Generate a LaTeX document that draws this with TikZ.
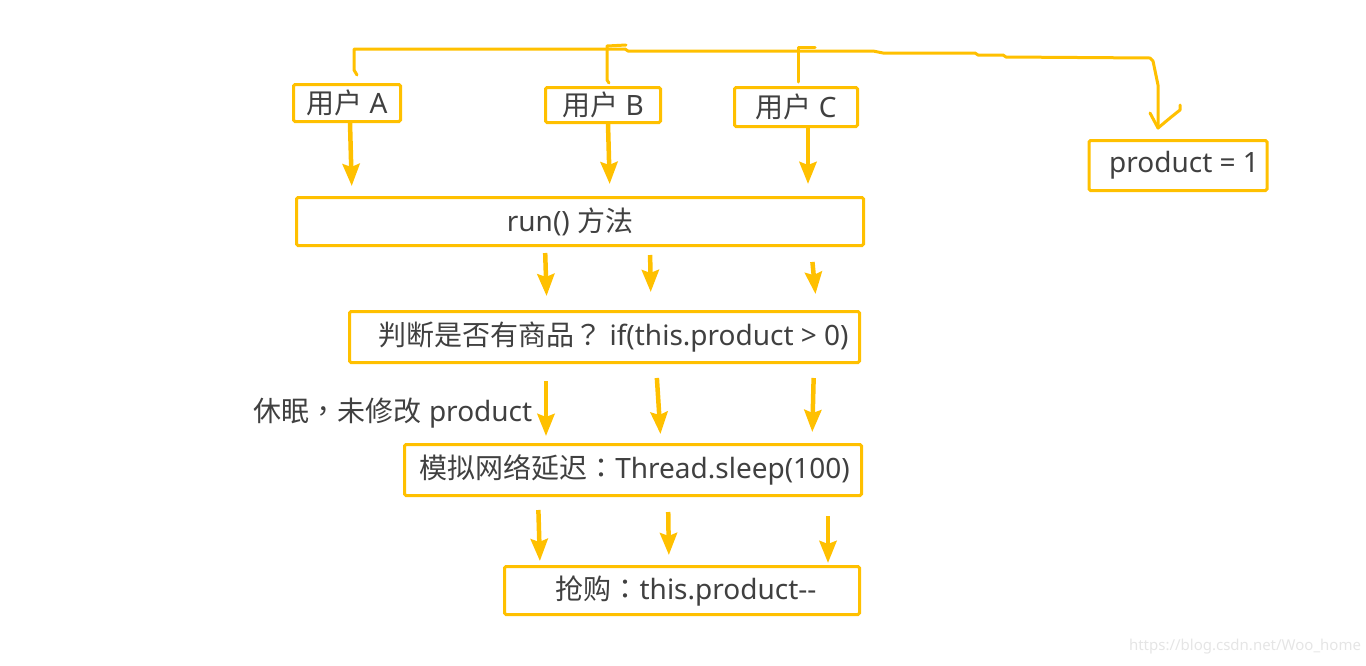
\documentclass[tikz,border=0pt]{standalone}
\usepackage{fontspec}
\setmainfont{Noto Sans}
\newfontfamily\cjk{Noto Sans CJK SC}
\newfontfamily\cjkp{Noto Sans CJK TC}
\usetikzlibrary{arrows.meta}
\definecolor{mygold}{RGB}{255,192,0}
\definecolor{mytext}{RGB}{64,64,64}

\begin{document}
\begin{tikzpicture}[x=1pt,y=-1pt,font=\fontsize{28}{32}\selectfont,
  box/.style={draw=mygold, line width=3pt, rounded corners=1.5pt, text=mytext, inner sep=0pt},
  flow/.style={draw=mygold, line width=4.5pt, -{Stealth[length=22pt,width=17pt,inset=3pt]}},
  hand/.style={draw=mygold, line width=3pt, line join=round, line cap=round}]
  \useasboundingbox (0,0) rectangle (1366,665);

  % users and the shared stock
  \node[box, minimum width=107pt, minimum height=37pt] (ua) at (347,103) {{\cjk 用户} A};
  \node[box, minimum width=115pt, minimum height=35pt] (ub) at (603,105) {{\cjk 用户} B};
  \node[box, minimum width=123pt, minimum height=39pt] (uc) at (796,107) {{\cjk 用户} C};
  \node[box, minimum width=178pt, minimum height=50pt] (prod) at (1178,165.5) {\hspace*{12pt}product = 1};

  % steps
  \node[box, minimum width=567pt, minimum height=48pt] (run) at (580,221.5) {run() {\cjk 方法}\hspace*{20pt}};
  \node[box, minimum width=510pt, minimum height=51pt] (judge) at (604.5,337) {\hspace*{18pt}{\cjk 判断是否有商品}{\cjkp ？} if(this.product > 0)};
  \node[box, minimum width=457pt, minimum height=51pt] (delay) at (633,470) {\hspace*{3pt}{\cjk 模拟网络延迟}{\cjkp ：}Thread.sleep(100)};
  \node[box, minimum width=355pt, minimum height=48pt] (buy) at (682,590.5) {\hspace*{8pt}{\cjk 抢购}{\cjkp ：}this.product-\kern0pt-};
  \node[text=mytext] (nap) at (393,413) {{\cjk 休眠}{\cjkp ，}{\cjk 未修改} product};

  % hand drawn link to product
  \coordinate (tip) at ([xshift=-20pt,yshift=11pt]prod.north);
  \draw[hand] ([xshift=10pt,yshift=8pt]ua.north) -- (354,70) -- (354,49) -- (625,49) -- (628,51)
    -- (873,51) -- (883,53) -- (975,53) -- (978,55) -- (1003,55) -- (1006,57) -- (1150,58)
    -- (1153,61) -- (1158,85) -- (tip);
  \draw[hand] ([xshift=6pt,yshift=3pt]ub.north) -- (607,80) -- (607,46) -- (626,45);
  \draw[hand] ([xshift=2pt,yshift=4pt]uc.north) -- (798,47) -- (815,47);
  \draw[hand] (tip) ++(-8,-15) -- (tip) -- ++(12,-10) -- ++(10,-8) -- ++(0,-5);

  % arrows
  \draw[flow,shorten >=10pt] ([xshift=3pt]ua.south) -- ([xshift=-228pt]run.north);
  \draw[flow,shorten >=12pt] ([xshift=5pt]ub.south) -- ([xshift=30pt]run.north);
  \draw[flow,shorten >=12pt] ([xshift=12pt]uc.south) -- ([xshift=228pt]run.north);
  \draw[flow,shorten <=6pt,shorten >=14pt] ([xshift=-35pt]run.south) -- ([xshift=-57.5pt]judge.north);
  \draw[flow,shorten <=8pt,shorten >=18pt] ([xshift=70pt]run.south) -- ([xshift=46.5pt]judge.north);
  \draw[flow,shorten <=15pt,shorten >=16pt] ([xshift=231pt]run.south) -- ([xshift=212.5pt]judge.north);
  \draw[flow,shorten <=17pt,shorten >=7pt] ([xshift=-58.5pt]judge.south) -- ([xshift=-87pt]delay.north);
  \draw[flow,shorten <=14pt,shorten >=9pt] ([xshift=51.5pt]judge.south) -- ([xshift=28pt]delay.north);
  \draw[flow,shorten <=14pt,shorten >=11pt] ([xshift=209.5pt]judge.south) -- ([xshift=179pt]delay.north);
  \draw[flow,shorten <=13pt,shorten >=4pt] ([xshift=-95pt]delay.south) -- ([xshift=-142pt]buy.north);
  \draw[flow,shorten <=15pt,shorten >=10pt] ([xshift=35pt]delay.south) -- ([xshift=-13pt]buy.north);
  \draw[flow,shorten <=19pt,shorten >=2pt] ([xshift=195pt]delay.south) -- ([xshift=146pt]buy.north);

  \node[text=black!10, font=\fontsize{15}{18}\selectfont] (mark) at (1245,647) {https://blog.csdn.net/Woo\_home};
\end{tikzpicture}
\end{document}
